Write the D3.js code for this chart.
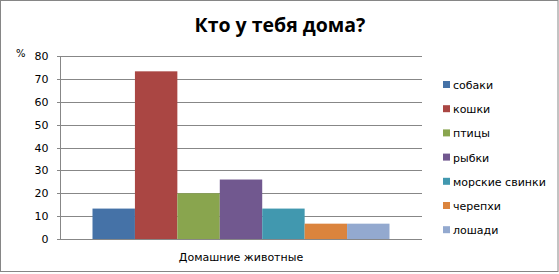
<!DOCTYPE html>
<html>
<head>
<meta charset="utf-8">
<script src="https://d3js.org/d3.v7.min.js"></script>
<style>
    body { margin: 0; background: #fff; }
    text { font-family: "DejaVu Sans", Verdana, sans-serif; }
</style>
</head>
<body>
<div id="chart"></div>
<script>
// Chart data
const category = "Домашние животные";
const animals = ["собаки", "кошки", "птицы", "рыбки", "морские свинки", "черепхи", "лошади"];
const values = [13.3, 73.3, 20, 26, 13.3, 6.7, 6.7];
const colors = ["#4572a7", "#aa4643", "#89a54e", "#71588f", "#4198af", "#db843d", "#93a9cf"];
const yTicks = [0, 10, 20, 30, 40, 50, 60, 70, 80];

const width = 559;
const height = 274;
const plot = { left: 60, right: 422, top: 56, bottom: 239 };
const gridColor = "#878787";

const svg = d3.select("#chart")
    .append("svg")
    .attr("width", width)
    .attr("height", height);

// outer frame
svg.append("rect")
    .attr("x", 0.5)
    .attr("y", 0.5)
    .attr("width", width - 1.5)
    .attr("height", 271)
    .style("fill", "#fff")
    .style("stroke", "#868686")
    .style("stroke-width", 1);

// title
svg.append("text")
    .attr("x", 280)
    .attr("y", 32)
    .attr("text-anchor", "middle")
    .style("font-family", "'Open Sans', sans-serif")
    .style("font-weight", "bold")
    .style("font-size", "19.5px")
    .text("Кто у тебя дома?");

const y = d3.scaleLinear()
    .domain([0, 80])
    .range([plot.bottom, plot.top]);

const x0 = d3.scaleBand()
    .domain([category])
    .range([plot.left, plot.right]);

// bars span ~82% of the category band
const groupWidth = 297;
const x1 = d3.scaleBand()
    .domain(animals)
    .range([x0(category) + (x0.bandwidth() - groupWidth) / 2, x0(category) + (x0.bandwidth() + groupWidth) / 2]);

// gridlines
svg.append("g")
    .selectAll("line")
    .data(yTicks)
    .enter()
    .append("line")
    .attr("x1", plot.left - 3)
    .attr("x2", plot.right)
    .attr("y1", d => Math.round(y(d)) + 0.5)
    .attr("y2", d => Math.round(y(d)) + 0.5)
    .style("stroke", gridColor)
    .style("stroke-width", 1);

// bars
svg.append("g")
    .selectAll("rect")
    .data(animals)
    .enter()
    .append("rect")
    .attr("x", d => x1(d))
    .attr("width", x1.bandwidth())
    .attr("y", (d, i) => y(values[i]))
    .attr("height", (d, i) => y(0) - y(values[i]))
    .style("fill", (d, i) => colors[i]);

// y axis
const yAxis = svg.append("g")
    .attr("transform", `translate(${plot.left + 0.5},0)`)
    .call(d3.axisLeft(y).tickValues(yTicks).tickSize(3).tickPadding(9));
yAxis.select(".domain").attr("stroke", gridColor).attr("d", `M0,${plot.top}V${plot.bottom + 0.5}`);
yAxis.selectAll(".tick line").remove();
yAxis.selectAll("text")
    .style("font-family", "'DejaVu Sans', sans-serif")
    .style("font-size", "11px")
    .attr("fill", "#000");

svg.append("text")
    .attr("x", 16)
    .attr("y", 57)
    .style("font-size", "10px")
    .text("%");

// category label
svg.append("text")
    .attr("x", x0(category) + x0.bandwidth() / 2)
    .attr("y", 261)
    .attr("text-anchor", "middle")
    .style("font-size", "11px")
    .text(category);

// legend
const legend = svg.append("g")
    .selectAll("g")
    .data(animals)
    .enter()
    .append("g")
    .attr("transform", (d, i) => `translate(443,${85 + i * 24.2})`);

legend.append("rect")
    .attr("x", 0)
    .attr("y", -4)
    .attr("width", 7)
    .attr("height", 7)
    .style("fill", (d, i) => colors[i]);

legend.append("text")
    .attr("x", 10)
    .attr("y", 4)
    .style("font-size", "11px")
    .text(d => d);
</script>
</body>
</html>
